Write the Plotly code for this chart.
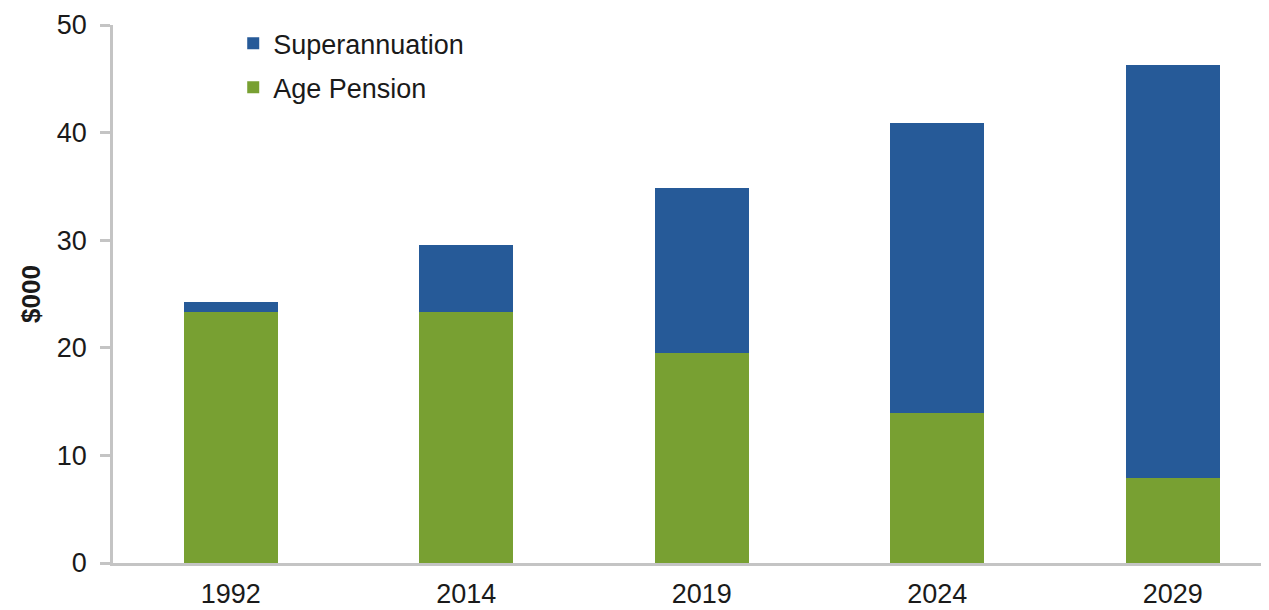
import plotly.graph_objects as go

years = ["1992", "2014", "2019", "2024", "2029"]
age_pension = [23.3, 23.35, 19.5, 13.9, 7.9]
superannuation = [1.0, 6.2, 15.35, 27.0, 38.4]
series_names = ["Age Pension", "Superannuation"]
y_ticks = [0, 10, 20, 30, 40, 50]

GREEN = "#78A032"
BLUE = "#265A98"
FONT = "Liberation Sans, Arial, sans-serif"

fig = go.Figure()
fig.add_trace(go.Bar(x=years, y=age_pension, name=series_names[0], marker_color=GREEN,
                     marker_line_width=0, width=0.4, legendgroup="a", legendrank=2))
fig.add_trace(go.Bar(x=years, y=superannuation, name=series_names[1], marker_color=BLUE,
                     marker_line_width=0, width=0.4, legendgroup="b", legendrank=1))

fig.update_layout(
    width=1261, height=602,
    barmode="stack",
    plot_bgcolor="white", paper_bgcolor="white",
    margin=dict(l=105, r=0, t=17, b=47, pad=0, autoexpand=False),
    font=dict(family=FONT, size=27, color="#1a1a1a"),
    showlegend=True,
    legend=dict(x=0.104, y=1.011, xanchor="left", yanchor="top",
                traceorder="grouped", tracegroupgap=6,
                font=dict(size=27, color="#1a1a1a"), bgcolor="rgba(0,0,0,0)",
                itemwidth=30),
    xaxis=dict(type="category", range=[-0.5, 4.409], showgrid=False, automargin=False,
               showline=True, linecolor="#c4c4c4", linewidth=2.5,
               ticks="", ticklabelstandoff=5,
               tickfont=dict(size=27, color="#1a1a1a")),
    yaxis=dict(range=[0, 50], tickvals=y_ticks, showgrid=False, zeroline=False, automargin=False,
               showline=True, linecolor="#c4c4c4", linewidth=2.5,
               ticks="outside", ticklen=10, tickwidth=2.5, tickcolor="#c4c4c4",
               ticklabelstandoff=8,
               tickfont=dict(size=27, color="#1a1a1a"),
               title=dict(text="<b>$000</b>", font=dict(size=26, color="#1a1a1a"), standoff=9)),
)

fig.write_html("out.html")
